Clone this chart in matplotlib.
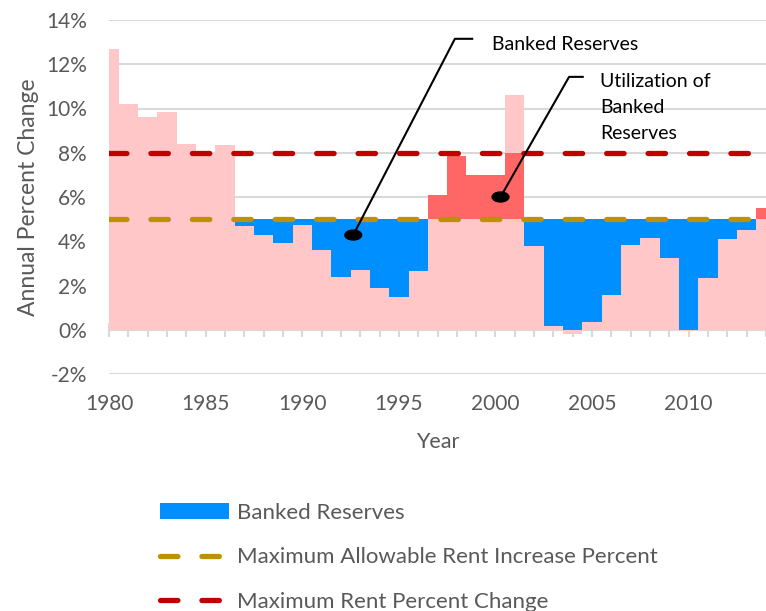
import numpy as np
import matplotlib
matplotlib.use("Agg")
import matplotlib.pyplot as plt
from matplotlib.patches import Patch, Ellipse
from matplotlib.lines import Line2D

plt.rcParams['font.family'] = ['Lato', 'DejaVu Sans']

# data
years = np.arange(1980, 2015)
rent_change = [12.7, 10.2, 9.6, 9.85, 8.4, 7.95, 8.35,
               4.7, 4.3, 3.9, 4.75, 3.6, 2.4, 2.7, 1.9, 1.5, 2.65,
               6.1, 7.85, 7.0, 7.0, 10.6,
               3.8, 0.15, -0.2, 0.35, 1.55, 3.85, 4.15, 3.25, -0.05, 2.35, 4.1, 4.5, 5.5]
max_allowable = 5.0
max_rent_change = 8.0
banking_start = 1987
xtick_years = [1980, 1985, 1990, 1995, 2000, 2005, 2010]
yticks = [-2, 0, 2, 4, 6, 8, 10, 12, 14]

PINK = '#FFC7C7'
BLUE = '#008FFF'
SALMON = '#FF6666'
GOLD = '#BF9000'
DARKRED = '#C00000'
GRID = '#D9D9D9'
TXT = '#595959'

change = np.array(rent_change)
banking = years >= banking_start
floor = np.clip(change, 0, None)
banked = np.where(banking & (change < max_allowable), max_allowable - floor, 0)
used = np.where(banking & (change > max_allowable),
                np.minimum(change, max_rent_change) - max_allowable, 0)

fig = plt.figure(figsize=(7.66, 6.11), dpi=100)
ax = fig.add_axes([109 / 766, 1 - 374 / 611, 1 - 109 / 766, (374 - 20) / 611])

ax.bar(years, change, width=1.0, color=PINK, linewidth=0, zorder=2)
ax.bar(years, used, bottom=max_allowable, width=1.0, color=SALMON, linewidth=0, zorder=3)
ax.bar(years, banked, bottom=floor, width=1.0, color=BLUE, linewidth=0, zorder=3)

dash_kw = dict(lw=3.8, dashes=(3.3, 4.55), dash_capstyle='round', zorder=5)
ax.axhline(max_allowable, color=GOLD, **dash_kw)
ax.axhline(max_rent_change, color=DARKRED, **dash_kw)

ax.set_xlim(1980, 2014)
ax.set_ylim(-2, 14)
ax.set_xticks(xtick_years)
ax.set_yticks(yticks)
ax.set_yticklabels([f"{v}%" for v in yticks])
ax.tick_params(axis='x', length=0, pad=14.5, labelsize=15, labelcolor=TXT)
ax.tick_params(axis='y', length=0, pad=16, labelsize=15, labelcolor=TXT)
for s in ax.spines.values():
    s.set_visible(False)
ax.yaxis.grid(True, color=GRID, lw=1.5)
ax.set_axisbelow(True)

# category axis crossing at 0%
sec = ax.secondary_xaxis(2 / 16)
sec.set_xticks(years)
sec.tick_params(direction='inout', length=10, width=1.5, color=GRID, labelbottom=False)
sec.spines['bottom'].set_color(GRID)
sec.spines['bottom'].set_linewidth(1.5)

ax.set_xlabel('Year', fontsize=15.5, color=TXT, labelpad=13)
ax.set_ylabel('Annual Percent Change', fontsize=16.5, color=TXT, labelpad=5)

# annotations
ann_kw = dict(color='black', lw=1.5, zorder=6, solid_capstyle='butt')
bank_dot = (1992.64, 4.28)
bank_corner = (1997.9, 13.15)
bank_end = 1998.85
ax.plot([bank_dot[0], bank_corner[0], bank_end],
        [bank_dot[1], bank_corner[1], bank_corner[1]], clip_on=False, **ann_kw)
ax.add_patch(Ellipse(bank_dot, 0.87, 0.45, color='black', zorder=7))
ax.text(1999.83, 12.88, 'Banked Reserves', fontsize=14, va='center', ha='left')

use_dot = (2000.26, 6.0)
use_corner = (2003.81, 11.43)
use_end = 2004.57
ax.plot([use_dot[0], use_corner[0], use_end],
        [use_dot[1], use_corner[1], use_corner[1]], clip_on=False, **ann_kw)
ax.add_patch(Ellipse(use_dot, 0.87, 0.45, color='black', zorder=7))
ax.text(2005.4, 10.05, 'Utilization of\nBanked\nReserves', fontsize=14,
        va='center', ha='left', linespacing=1.65)

handles = [
    Patch(facecolor=BLUE, edgecolor='none'),
    Line2D([], [], color=GOLD, lw=3.8, dashes=(3.3, 4.55), dash_capstyle='round'),
    Line2D([], [], color=DARKRED, lw=3.8, dashes=(3.3, 4.55), dash_capstyle='round'),
]
labels = ['Banked Reserves', 'Maximum Allowable Rent Increase Percent',
          'Maximum Rent Percent Change']
leg = fig.legend(handles, labels, loc='upper left', bbox_to_anchor=(160 / 766, 1 - 503 / 611),
                 frameon=False, fontsize=16, handlelength=3.1, handletextpad=0.36,
                 labelspacing=1.1, borderpad=0, borderaxespad=0)
for t in leg.get_texts():
    t.set_color(TXT)

fig.savefig('out.png', dpi=100)
